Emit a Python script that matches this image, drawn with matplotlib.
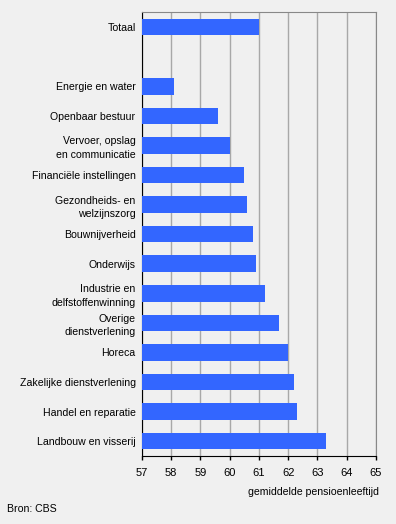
import matplotlib
matplotlib.use("Agg")
import matplotlib.pyplot as plt

categories = ["Totaal", "", "Energie en water", "Openbaar bestuur",
              "Vervoer, opslag\nen communicatie", "Financiële instellingen",
              "Gezondheids- en\nwelzijnszorg", "Bouwnijverheid", "Onderwijs",
              "Industrie en\ndelfstoffenwinning", "Overige\ndienstverlening",
              "Horeca", "Zakelijke dienstverlening", "Handel en reparatie",
              "Landbouw en visserij"]
values = [61.0, None, 58.1, 59.6, 60.0, 60.5, 60.6, 60.8, 60.9, 61.2, 61.7,
          62.0, 62.2, 62.3, 63.3]
xticks = [57, 58, 59, 60, 61, 62, 63, 64, 65]

plt.rcParams['font.family'] = ['Liberation Sans', 'DejaVu Sans']
bg = "#F0F0F0"
fs = 7.6
fig = plt.figure(figsize=(3.96, 5.24), dpi=100, facecolor=bg)
ax = fig.add_axes([0.358, 0.1298, 0.5915, 0.8467], facecolor=bg)

xmin = 57
pos = [i for i, v in enumerate(values) if v is not None]
vals = [values[i] - xmin for i in pos]
ax.barh(pos, vals, left=xmin, height=0.56, color="#3366FF", zorder=3)

ax.set_xlim(57, 65)
ax.set_ylim(14.5, -0.5)
ax.set_xticks(xticks)
ax.set_xticklabels([str(t) for t in xticks], fontsize=fs + 0.4)
ax.set_yticks(range(len(categories)))
ax.set_yticklabels(categories, fontsize=fs, linespacing=1.45)
ax.tick_params(axis='y', length=0, pad=4.5)
ax.tick_params(axis='x', length=3, width=1, color="black", pad=6)
ax.grid(axis='x', color="#A8A8A8", linewidth=1, zorder=0)
for s in ['top', 'right']:
    ax.spines[s].set_color("#888888")
for s in ['left', 'bottom']:
    ax.spines[s].set_color("black")

fig.text(379/396, 1 - 492/524, "gemiddelde pensioenleeftijd", ha='right',
         va='center', fontsize=fs)
fig.text(7/396, 1 - 509/524, "Bron: CBS", ha='left', va='center', fontsize=fs)

fig.savefig("out.png", dpi=100, facecolor=bg)
